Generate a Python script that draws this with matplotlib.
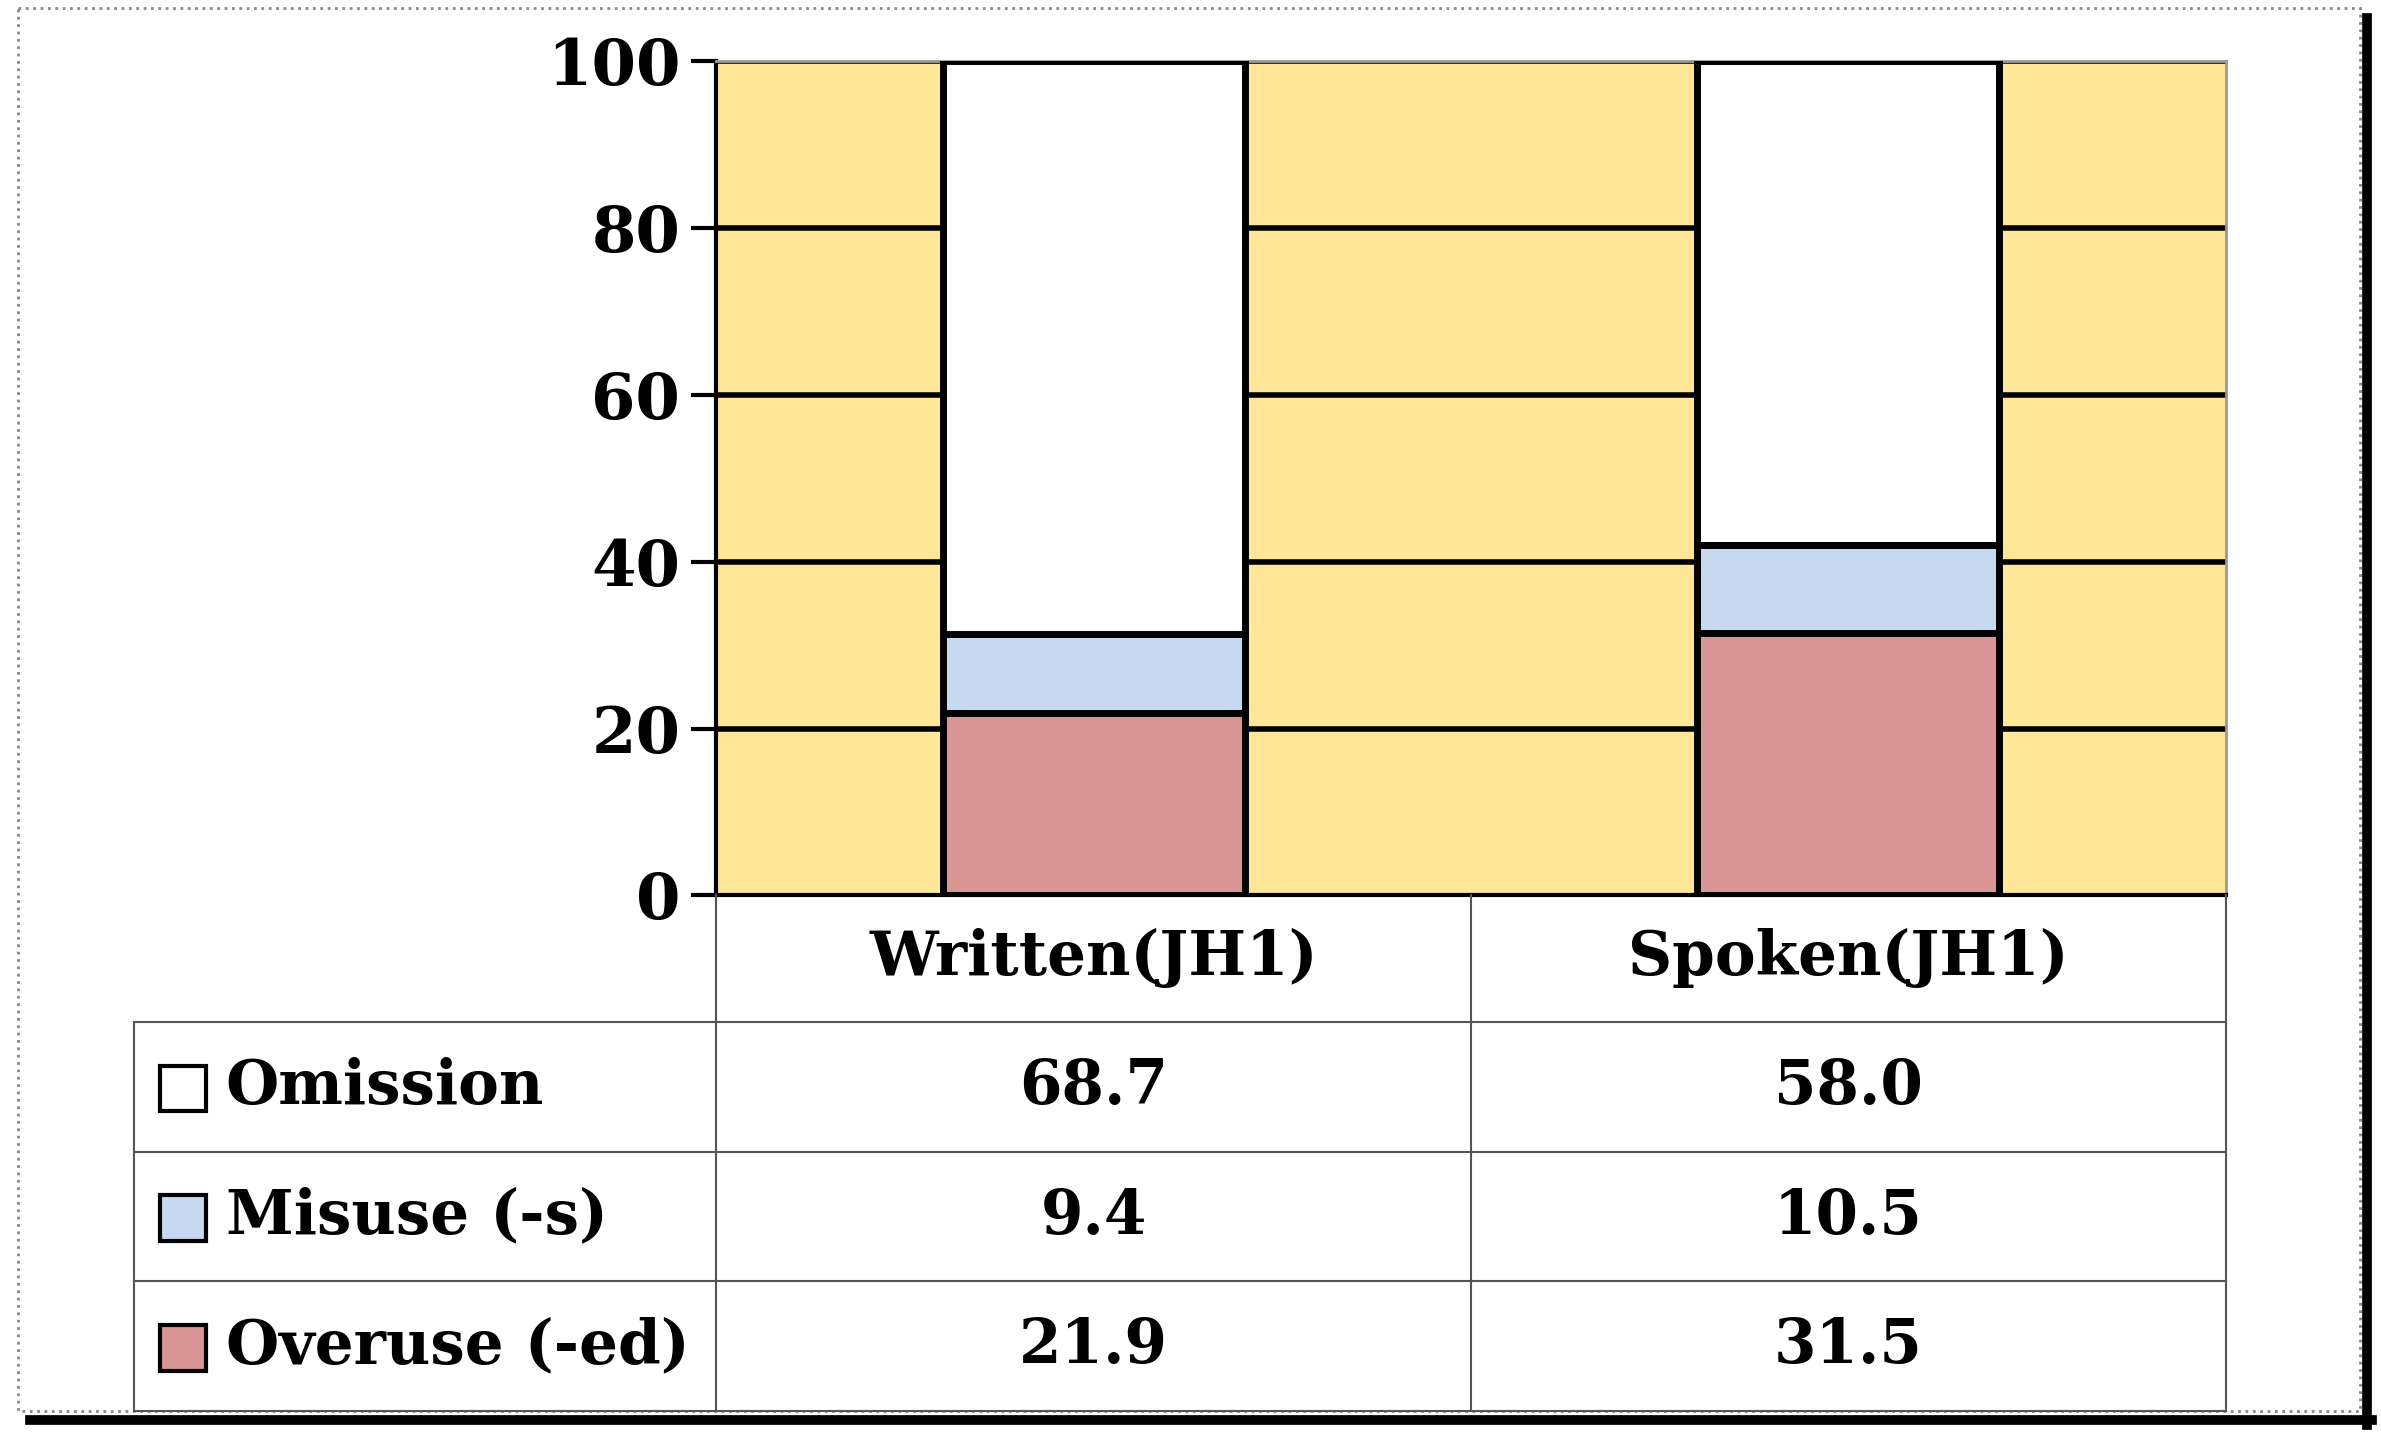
import matplotlib
matplotlib.use("Agg")
import matplotlib.pyplot as plt
from matplotlib.patches import Rectangle

categories = ["Written(JH1)", "Spoken(JH1)"]
series_names = ["Omission", "Misuse (-s)", "Overuse (-ed)"]
omission = [68.7, 58.0]
misuse = [9.4, 10.5]
overuse = [21.9, 31.5]
colors = {"Omission": "#FFFFFF", "Misuse (-s)": "#C6D9F1", "Overuse (-ed)": "#D99594"}
yticks = [0, 20, 40, 60, 80, 100]

W, H = 1562, 942
fig = plt.figure(figsize=(23.81, 14.37), dpi=100)
font = dict(family="DejaVu Serif", weight="bold")

def fx(x): return x / W
def fy(y): return 1 - y / H

ax = fig.add_axes([fx(470), fy(587), fx(1460) - fx(470), fy(40) - fy(587)])
ax.set_facecolor("#FFE699")
ax.set_xlim(-0.5, 1.5)
ax.set_ylim(0, 100)
ax.set_yticks(yticks)
ax.set_yticklabels([str(t) for t in yticks], fontsize=46, **font)
ax.set_xticks([])
for t in yticks[1:]:
    ax.axhline(t, color="black", lw=4, zorder=1)
for s in ["top", "right"]:
    ax.spines[s].set_color("#999999")
    ax.spines[s].set_linewidth(2)
ax.spines["left"].set_linewidth(3)
ax.spines["bottom"].set_linewidth(3)
ax.tick_params(axis="y", length=18, width=3, direction="out", pad=8)
x = [0, 1]
bottom = [0, 0]
for name, vals in [("Overuse (-ed)", overuse), ("Misuse (-s)", misuse), ("Omission", omission)]:
    ax.bar(x, vals, 0.4, bottom=bottom, color=colors[name], edgecolor="black", lw=5, zorder=3)
    bottom = [b + v for b, v in zip(bottom, vals)]

ov = fig.add_axes([0, 0, 1, 1], facecolor="none")
ov.set_xlim(0, W); ov.set_ylim(H, 0); ov.axis("off")
lc = "#555555"
rows_y = [587, 670, 755, 840, 925]
cols_x = [470, 965, 1460]
ov.plot([470, 470], [587, 925], color=lc, lw=1.5)
for cx in cols_x[1:]:
    ov.plot([cx, cx], [587, 925], color=lc, lw=1.5)
ov.plot([88, 88], [670, 925], color=lc, lw=1.5)
for ry in rows_y[1:]:
    ov.plot([88, 1460], [ry, ry], color=lc, lw=1.5)
for i, c in enumerate(categories):
    ov.text((cols_x[i] + cols_x[i + 1]) / 2, 628, c, ha="center", va="center", fontsize=44, **font)
table_vals = [omission, misuse, overuse]
for r, (name, vals) in enumerate(zip(series_names, table_vals)):
    yc = (rows_y[r + 1] + rows_y[r + 2]) / 2
    ov.add_patch(Rectangle((105, yc - 14), 30, 30, facecolor=colors[name], edgecolor="black", lw=3))
    ov.text(148, yc, name, ha="left", va="center", fontsize=44, **font)
    for i, v in enumerate(vals):
        ov.text((cols_x[i] + cols_x[i + 1]) / 2, yc, f"{v:.1f}", ha="center", va="center", fontsize=44, **font)

ov.add_patch(Rectangle((12, 5), 1536, 920, fill=False, edgecolor="#888888", lw=2, ls=":"))
ov.plot([20, 1556], [931, 931], color="black", lw=7)
ov.plot([1553, 1553], [12, 934], color="black", lw=7)

fig.savefig("out.png", dpi=100, facecolor="white")
